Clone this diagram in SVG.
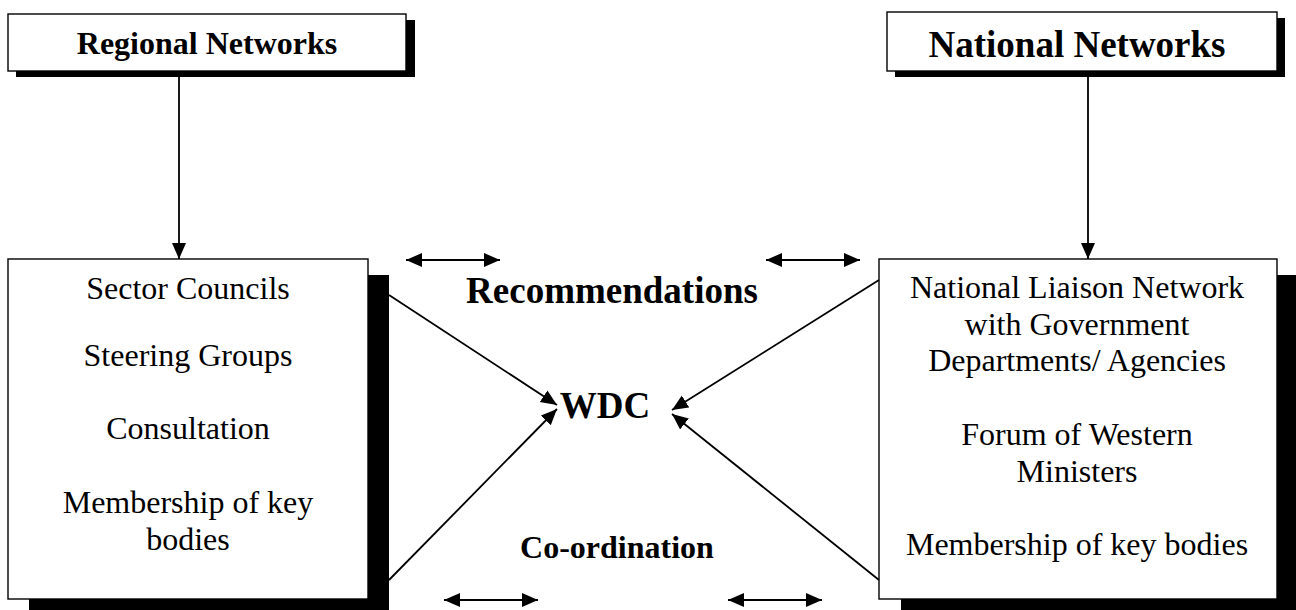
<svg xmlns="http://www.w3.org/2000/svg" width="1296" height="610" viewBox="0 0 1296 610">
<style>
.box{fill:#fff;stroke:#000;stroke-width:1.4}
.sh{fill:#000}
.t{font-family:"Liberation Serif","Times New Roman",serif;font-size:32px;fill:#000;text-anchor:middle}
.b{font-weight:bold}
.big{font-size:37px}
.ln{stroke:#000;stroke-width:1.8;fill:none}
</style>
<defs>
<marker id="ah" markerUnits="userSpaceOnUse" markerWidth="17" markerHeight="15" refX="16" refY="7" orient="auto-start-reverse" viewBox="0 0 17 15">
<path d="M0,0 L16,7 L0,14 z" fill="#000"/>
</marker>
</defs>
<rect width="1296" height="610" fill="#fff"/>
<g id="regional">
<rect class="sh" x="16" y="20" width="399" height="57"/>
<rect class="box" x="8" y="14" width="398" height="57"/>
<text class="t b" x="207" y="54">Regional Networks</text>
</g>
<g id="national">
<rect class="sh" x="895" y="18" width="390" height="59"/>
<rect class="box" x="887" y="12" width="390" height="59"/>
<text class="t b big" x="1077" y="57">National Networks</text>
</g>
<g id="regional-bodies">
<rect class="sh" x="29" y="275" width="360" height="340"/>
<rect class="box" x="8" y="259" width="360" height="340"/>
<text class="t" x="188" y="299">Sector Councils</text>
<text class="t" x="188" y="366">Steering Groups</text>
<text class="t" x="188" y="439">Consultation</text>
<text class="t" x="188" y="513">Membership of key</text>
<text class="t" x="188" y="550">bodies</text>
</g>
<g id="national-bodies">
<rect class="sh" x="901" y="275" width="400" height="340"/>
<rect class="box" x="879" y="259" width="398" height="340"/>
<text class="t" x="1077" y="298">National Liaison Network</text>
<text class="t" x="1077" y="335">with Government</text>
<text class="t" x="1077" y="371">Departments/ Agencies</text>
<text class="t" x="1077" y="445">Forum of Western</text>
<text class="t" x="1077" y="482">Ministers</text>
<text class="t" x="1077" y="555">Membership of key bodies</text>
</g>
<g id="wdc">
<text class="t b big" x="605" y="418">WDC</text>
</g>
<g id="labels">
<text class="t b big" x="612" y="303">Recommendations</text>
<text class="t b" x="617" y="558">Co-ordination</text>
</g>
<g id="connectors">
<line class="ln" x1="179" y1="72" x2="179" y2="259" marker-end="url(#ah)"/>
<line class="ln" x1="1088" y1="72" x2="1088" y2="259" marker-end="url(#ah)"/>
<line class="ln" x1="389" y1="295" x2="557" y2="405" marker-end="url(#ah)"/>
<line class="ln" x1="389" y1="580" x2="557" y2="409" marker-end="url(#ah)"/>
<line class="ln" x1="879" y1="280" x2="672" y2="410" marker-end="url(#ah)"/>
<line class="ln" x1="879" y1="580" x2="672" y2="414" marker-end="url(#ah)"/>
<line class="ln" x1="406" y1="260" x2="500" y2="260" marker-start="url(#ah)" marker-end="url(#ah)"/>
<line class="ln" x1="766" y1="260" x2="860" y2="260" marker-start="url(#ah)" marker-end="url(#ah)"/>
<line class="ln" x1="444" y1="600" x2="538" y2="600" marker-start="url(#ah)" marker-end="url(#ah)"/>
<line class="ln" x1="728" y1="600" x2="822" y2="600" marker-start="url(#ah)" marker-end="url(#ah)"/>
</g>
</svg>
